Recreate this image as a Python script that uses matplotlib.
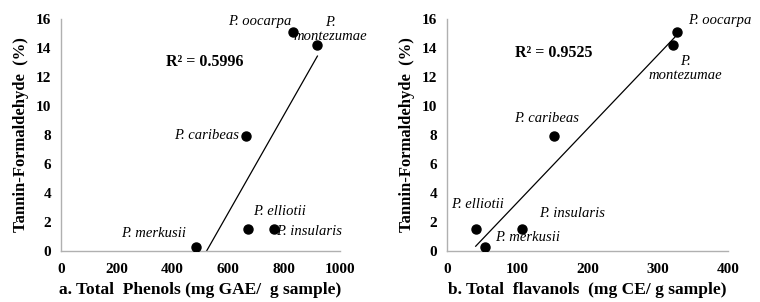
import numpy as np
import matplotlib
matplotlib.use('Agg')
import matplotlib.pyplot as plt

plt.rcParams['font.family'] = ['Liberation Serif', 'DejaVu Serif']

species = ['P. oocarpa', 'P.\nmontezumae', 'P. caribeas', 'P. elliotii', 'P. insularis', 'P. merkusii']
tannin = [15.1, 14.2, 7.9, 1.5, 1.5, 0.3]
phenols = [831, 919, 662, 671, 762, 484]
flavanols = [328, 321, 152, 41, 107, 54]

# label offsets (pixels) and alignment per panel
offs_a = [(-1, 11, 'right', 'center'), (13, 16, 'center', 'center'), (-7, 1, 'right', 'center'),
          (5, 18, 'left', 'center'), (3, -2, 'left', 'center'), (-10, 13, 'right', 'center')]
offs_b = [(11, 12, 'left', 'center'), (13, -23, 'center', 'center'), (-7, 18, 'center', 'center'),
          (2, 25, 'center', 'center'), (17, 16, 'left', 'center'), (10, 9, 'left', 'center')]

fig = plt.figure(figsize=(7.6, 3.02), dpi=100)
ax1 = fig.add_axes([0.0799, 0.169, 0.3675, 0.768])
ax2 = fig.add_axes([0.588, 0.169, 0.370, 0.768])


def panel(ax, x, xmax, xstep, offs, r2, r2pos, xlabel):
    x = np.array(x, dtype=float)
    y = np.array(tannin)
    m, b = np.polyfit(x, y, 1)
    xs = np.array([x.min(), x.max()])
    ax.plot(xs, m * xs + b, color='black', lw=0.9, zorder=2)
    ax.plot(x, y, 'o', color='black', ms=6.5, zorder=3)
    for i, name in enumerate(species):
        dx, dy, ha, va = offs[i]
        ax.annotate(name, (x[i], y[i]), xytext=(dx, dy), textcoords='offset pixels',
                    ha=ha, va=va, style='italic', fontsize=10.5, linespacing=1.1)
    ax.text(r2pos[0], r2pos[1], r2, transform=ax.transAxes, fontsize=11.5,
            fontweight='bold', ha='left', va='center')
    ax.set_xlim(0, xmax)
    ax.set_ylim(0, 16)
    ax.set_xticks(np.arange(0, xmax + 1, xstep))
    ax.set_yticks(np.arange(0, 17, 2))
    ax.tick_params(axis='x', length=0, labelsize=11, pad=9)
    ax.tick_params(axis='y', length=0, labelsize=11, pad=7)
    for lab in ax.get_xticklabels() + ax.get_yticklabels():
        lab.set_fontweight('bold')
    for s in ['top', 'right']:
        ax.spines[s].set_visible(False)
    for s in ['left', 'bottom']:
        ax.spines[s].set_color('#b0b0b0')
        ax.spines[s].set_linewidth(1.0)
    ax.set_xlabel(xlabel, fontsize=12.5, fontweight='bold', labelpad=4)
    ax.set_ylabel('Tannin-Formaldehyde  (%)', fontsize=12, fontweight='bold', labelpad=5)
    ax.patch.set_alpha(0)


panel(ax1, phenols, 1000, 200, offs_a, 'R² = 0.5996', (0.376, 0.813),
      'a. Total  Phenols (mg GAE/  g sample)')
panel(ax2, flavanols, 400, 100, offs_b, 'R² = 0.9525', (0.242, 0.855),
      'b. Total  flavanols  (mg CE/ g sample)')

fig.savefig('out.png', dpi=100)
